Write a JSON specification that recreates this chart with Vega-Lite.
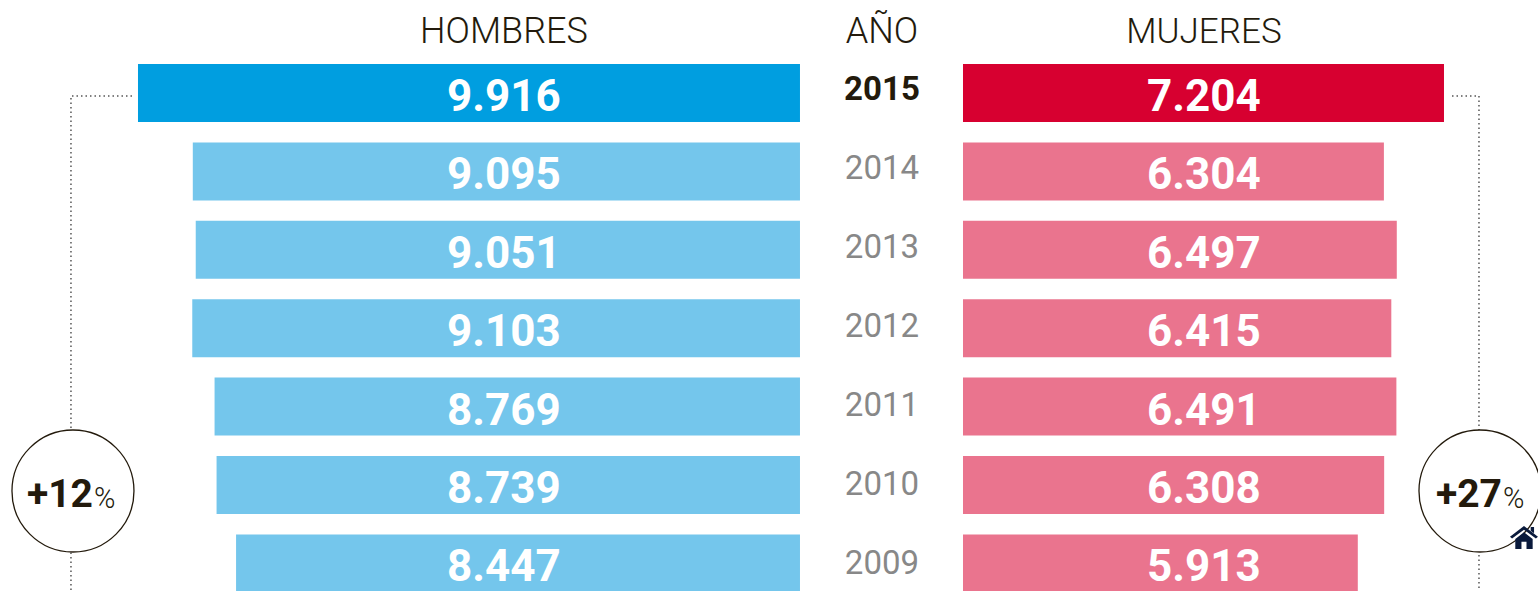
{"$schema":"https://vega.github.io/schema/vega-lite/v6.json","width":1538,"height":591,"autosize":{"type":"fit","contains":"padding"},"padding":0,"background":"white","config":{"view":{"stroke":null},"locale":{"number":{"decimal":",","thousands":".","grouping":[3],"currency":["","€"]}},"text":{"font":"Roboto"}},"datasets":{"filas":[{"anio":2015,"hombres":9916,"mujeres":7204},{"anio":2014,"hombres":9095,"mujeres":6304},{"anio":2013,"hombres":9051,"mujeres":6497},{"anio":2012,"hombres":9103,"mujeres":6415},{"anio":2011,"hombres":8769,"mujeres":6491},{"anio":2010,"hombres":8739,"mujeres":6308},{"anio":2009,"hombres":8447,"mujeres":5913}],"trazoH":[{"v":10006,"f":"a","o":1},{"v":10920,"f":"a","o":2},{"v":10920,"f":"z","o":3}],"trazoM":[{"v":7324,"f":"a","o":1},{"v":7728,"f":"a","o":2},{"v":7728,"f":"z","o":3}]},"resolve":{"scale":{"x":"independent","y":"independent"},"axis":{"x":"independent","y":"independent"}},"layer":[{"data":{"name":"trazoH"},"mark":{"type":"line","clip":true,"color":"#555","strokeWidth":1.5,"strokeDash":[1.5,3]},"encoding":{"order":{"field":"o","type":"quantitative"},"x":{"field":"v","type":"quantitative","axis":null,"scale":{"domain":[11983,-11055],"nice":false,"zero":false}},"y":{"field":"f","type":"ordinal","axis":null,"scale":{"type":"point","padding":0,"domain":["a","z"],"range":[96,600]}}}},{"data":{"name":"trazoM"},"mark":{"type":"line","clip":true,"color":"#555","strokeWidth":1.5,"strokeDash":[1.5,3]},"encoding":{"order":{"field":"o","type":"quantitative"},"x":{"field":"v","type":"quantitative","axis":null,"scale":{"domain":[-14423,8612],"nice":false,"zero":false}},"y":{"field":"f","type":"ordinal","axis":null,"scale":{"type":"point","padding":0,"domain":["a","z"],"range":[96,600]}}}},{"data":{"name":"filas"},"mark":{"type":"bar","clip":true},"encoding":{"x":{"field":"hombres","type":"quantitative","axis":null,"scale":{"domain":[11983,-11055],"nice":false,"zero":false}},"x2":{"datum":0},"y":{"field":"anio","type":"ordinal","axis":null,"scale":{"type":"band","domain":[2015,2014,2013,2012,2011,2010,2009],"range":[53.8,602.6],"paddingInner":0.26,"paddingOuter":0.13}},"color":{"condition":{"test":"datum.anio==2015","value":"#009ee0"},"value":"#74c6ec"}}},{"data":{"name":"filas"},"mark":{"type":"bar","clip":true},"encoding":{"x":{"field":"mujeres","type":"quantitative","axis":null,"scale":{"domain":[-14423,8612],"nice":false,"zero":false}},"x2":{"datum":0},"y":{"field":"anio","type":"ordinal","axis":null,"scale":{"type":"band","domain":[2015,2014,2013,2012,2011,2010,2009],"range":[53.8,602.6],"paddingInner":0.26,"paddingOuter":0.13}},"color":{"condition":{"test":"datum.anio==2015","value":"#d70030"},"value":"#ea748e"}}},{"data":{"name":"filas"},"mark":{"type":"text","clip":true,"font":"Roboto","fontWeight":700,"fontSize":44,"color":"white","dy":5,"baseline":"middle","align":"center"},"encoding":{"text":{"field":"hombres","type":"quantitative","format":",d"},"x":{"datum":4434,"type":"quantitative","axis":null,"scale":{"domain":[11983,-11055],"nice":false,"zero":false}},"y":{"field":"anio","type":"ordinal","axis":null,"scale":{"type":"band","domain":[2015,2014,2013,2012,2011,2010,2009],"range":[53.8,602.6],"paddingInner":0.26,"paddingOuter":0.13}}}},{"data":{"name":"filas"},"mark":{"type":"text","clip":true,"font":"Roboto","fontWeight":700,"fontSize":44,"color":"white","dy":5,"baseline":"middle","align":"center"},"encoding":{"text":{"field":"mujeres","type":"quantitative","format":",d"},"x":{"datum":3609,"type":"quantitative","axis":null,"scale":{"domain":[-14423,8612],"nice":false,"zero":false}},"y":{"field":"anio","type":"ordinal","axis":null,"scale":{"type":"band","domain":[2015,2014,2013,2012,2011,2010,2009],"range":[53.8,602.6],"paddingInner":0.26,"paddingOuter":0.13}}}},{"data":{"name":"filas"},"transform":[{"filter":"datum.anio!=2015"}],"mark":{"type":"text","clip":true,"font":"Roboto","fontWeight":400,"fontSize":33,"color":"#888888","dy":2,"baseline":"middle","align":"center"},"encoding":{"text":{"field":"anio","type":"ordinal"},"x":{"datum":-1228,"type":"quantitative","axis":null,"scale":{"domain":[11983,-11055],"nice":false,"zero":false}},"y":{"field":"anio","type":"ordinal","axis":null,"scale":{"type":"point","padding":0,"domain":[2015,2014,2013,2012,2011,2010,2009],"range":[88,562]}}}},{"data":{"name":"filas"},"transform":[{"filter":"datum.anio==2015"}],"mark":{"type":"text","clip":true,"font":"Roboto","fontWeight":700,"fontSize":33,"color":"#231a0c","dy":2,"baseline":"middle","align":"center"},"encoding":{"text":{"field":"anio","type":"ordinal"},"x":{"datum":-1228,"type":"quantitative","axis":null,"scale":{"domain":[11983,-11055],"nice":false,"zero":false}},"y":{"field":"anio","type":"ordinal","axis":null,"scale":{"type":"point","padding":0,"domain":[2015,2014,2013,2012,2011,2010,2009],"range":[88,562]}}}},{"data":{"values":[{"t":"HOMBRES","v":4434,"f":"cab"},{"t":"AÑO","v":-1228,"f":"cab"}]},"mark":{"type":"text","clip":true,"font":"Roboto","fontWeight":300,"fontSize":36,"color":"#231a0c","dy":1,"baseline":"middle","align":"center"},"encoding":{"text":{"field":"t"},"x":{"field":"v","type":"quantitative","axis":null,"scale":{"domain":[11983,-11055],"nice":false,"zero":false}},"y":{"field":"f","type":"ordinal","axis":null,"scale":{"type":"point","padding":0,"domain":["cab","circulo"],"range":[31,491]}}}},{"data":{"values":[{"t":"MUJERES","v":3609,"f":"cab"}]},"mark":{"type":"text","clip":true,"font":"Roboto","fontWeight":300,"fontSize":35,"color":"#231a0c","dy":1,"baseline":"middle","align":"center"},"encoding":{"text":{"field":"t"},"x":{"field":"v","type":"quantitative","axis":null,"scale":{"domain":[-14423,8612],"nice":false,"zero":false}},"y":{"field":"f","type":"ordinal","axis":null,"scale":{"type":"point","padding":0,"domain":["cab","circulo"],"range":[31,491]}}}},{"data":{"values":[{"v":10890,"f":"circulo"}]},"mark":{"type":"point","clip":true,"filled":false,"shape":"circle","size":14884,"fill":"white","fillOpacity":1,"stroke":"#231a0c","strokeWidth":1.3,"opacity":1},"encoding":{"x":{"field":"v","type":"quantitative","axis":null,"scale":{"domain":[11983,-11055],"nice":false,"zero":false}},"y":{"field":"f","type":"ordinal","axis":null,"scale":{"type":"point","padding":0,"domain":["cab","circulo"],"range":[31,491]}}}},{"data":{"values":[{"v":7743,"f":"circulo"}]},"mark":{"type":"point","clip":true,"filled":false,"shape":"circle","size":14884,"fill":"white","fillOpacity":1,"stroke":"#231a0c","strokeWidth":1.3,"opacity":1},"encoding":{"x":{"field":"v","type":"quantitative","axis":null,"scale":{"domain":[-14423,8612],"nice":false,"zero":false}},"y":{"field":"f","type":"ordinal","axis":null,"scale":{"type":"point","padding":0,"domain":["cab","circulo"],"range":[31,491]}}}},{"data":{"values":[{"t":"+12","v":10590,"f":"circulo"}]},"mark":{"type":"text","clip":true,"font":"Roboto","fontWeight":700,"fontSize":39,"color":"#231a0c","baseline":"alphabetic","align":"right","dy":16},"encoding":{"text":{"field":"t"},"x":{"field":"v","type":"quantitative","axis":null,"scale":{"domain":[11983,-11055],"nice":false,"zero":false}},"y":{"field":"f","type":"ordinal","axis":null,"scale":{"type":"point","padding":0,"domain":["cab","circulo"],"range":[31,491]}}}},{"data":{"values":[{"t":"%","v":10576,"f":"circulo"}]},"mark":{"type":"text","clip":true,"font":"Roboto","fontWeight":300,"fontSize":29,"color":"#231a0c","baseline":"alphabetic","align":"left","dy":17},"encoding":{"text":{"field":"t"},"x":{"field":"v","type":"quantitative","axis":null,"scale":{"domain":[11983,-11055],"nice":false,"zero":false}},"y":{"field":"f","type":"ordinal","axis":null,"scale":{"type":"point","padding":0,"domain":["cab","circulo"],"range":[31,491]}}}},{"data":{"values":[{"t":"+27","v":8072,"f":"circulo"}]},"mark":{"type":"text","clip":true,"font":"Roboto","fontWeight":700,"fontSize":39,"color":"#231a0c","baseline":"alphabetic","align":"right","dy":16},"encoding":{"text":{"field":"t"},"x":{"field":"v","type":"quantitative","axis":null,"scale":{"domain":[-14423,8612],"nice":false,"zero":false}},"y":{"field":"f","type":"ordinal","axis":null,"scale":{"type":"point","padding":0,"domain":["cab","circulo"],"range":[31,491]}}}},{"data":{"values":[{"t":"%","v":8087,"f":"circulo"}]},"mark":{"type":"text","clip":true,"font":"Roboto","fontWeight":300,"fontSize":29,"color":"#231a0c","baseline":"alphabetic","align":"left","dy":17},"encoding":{"text":{"field":"t"},"x":{"field":"v","type":"quantitative","axis":null,"scale":{"domain":[-14423,8612],"nice":false,"zero":false}},"y":{"field":"f","type":"ordinal","axis":null,"scale":{"type":"point","padding":0,"domain":["cab","circulo"],"range":[31,491]}}}},{"data":{"values":[{"v":8402,"f":"casa"}]},"mark":{"type":"point","clip":true,"filled":true,"size":784,"opacity":1,"color":"#0a1a3c","shape":"M0,-0.82 L1,-0.05 L0.85,0.08 L0,-0.55 L-0.85,0.08 L-1,-0.05 Z M-0.62,0.1 L0,-0.38 L0.62,0.1 L0.62,0.82 L0.18,0.82 L0.18,0.3 L-0.18,0.3 L-0.18,0.82 L-0.62,0.82 Z M0.48,-0.75 L0.72,-0.75 L0.72,-0.3 L0.48,-0.48 Z"},"encoding":{"x":{"field":"v","type":"quantitative","axis":null,"scale":{"domain":[-14423,8612],"nice":false,"zero":false}},"y":{"field":"f","type":"ordinal","axis":null,"scale":{"type":"point","padding":0,"domain":["casa","fin"],"range":[537.5,600]}}}}]}
